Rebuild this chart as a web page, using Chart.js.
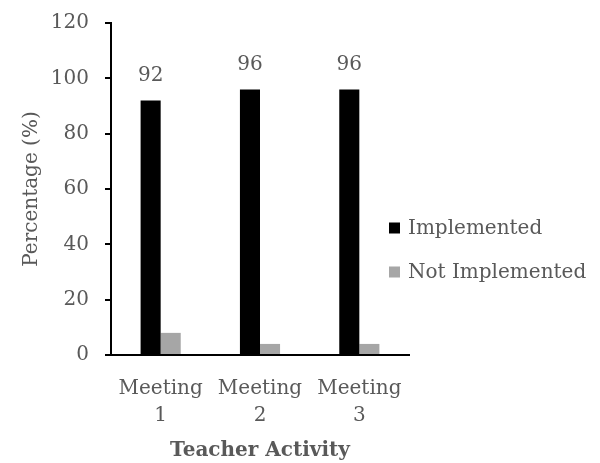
<!DOCTYPE html>
<html>
<head>
<meta charset="utf-8">
<script src="https://cdn.jsdelivr.net/npm/chart.js@4"></script>
<style>
  body { margin: 0; background: #fff; }
  canvas { display: block; }
</style>
</head>
<body>
<canvas id="chart" width="600" height="463"></canvas>
<script>
// chart values
const meetings = [["Meeting", "1"], ["Meeting", "2"], ["Meeting", "3"]];
const implemented = [92, 96, 96];
const notImplemented = [8, 4, 4];
const seriesNames = ["Implemented", "Not Implemented"];
const seriesColors = ["#000000", "#a6a6a6"];

const textColor = "#595959";
const serif = "'DejaVu Serif', 'Liberation Serif', serif";

// numbers above the black bars
const barLabels = {
  id: "barLabels",
  afterDatasetsDraw(chart) {
    const ctx = chart.ctx;
    const meta = chart.getDatasetMeta(0);
    ctx.save();
    ctx.font = "20px " + serif;
    ctx.fillStyle = textColor;
    ctx.textAlign = "center";
    ctx.textBaseline = "middle";
    meta.data.forEach((bar, i) => {
      ctx.fillText(String(implemented[i]), bar.x, bar.y - 25);
    });
    ctx.restore();
  }
};

// legend drawn to the right of the plot
const sideLegend = {
  id: "sideLegend",
  afterDraw(chart) {
    const ctx = chart.ctx;
    const left = 389;
    const rows = [228, 272];
    ctx.save();
    ctx.font = "20px " + serif;
    ctx.textBaseline = "middle";
    ctx.textAlign = "left";
    chart.data.datasets.forEach((ds, i) => {
      ctx.fillStyle = ds.backgroundColor;
      ctx.fillRect(left, rows[i] - 5.5, 11, 11);
      ctx.fillStyle = textColor;
      ctx.fillText(ds.label, left + 19, rows[i] + 1);
    });
    ctx.restore();
  }
};

const ctx = document.getElementById("chart").getContext("2d");
new Chart(ctx, {
  type: "bar",
  data: {
    labels: meetings,
    datasets: [
      {
        label: seriesNames[0],
        data: implemented,
        backgroundColor: seriesColors[0],
        barPercentage: 1,
        categoryPercentage: 0.404
      },
      {
        label: seriesNames[1],
        data: notImplemented,
        backgroundColor: seriesColors[1],
        barPercentage: 1,
        categoryPercentage: 0.404
      }
    ]
  },
  options: {
    responsive: false,
    animation: false,
    layout: { padding: { top: 23, right: 191, bottom: 0, left: 0 } },
    plugins: {
      legend: { display: false },
      tooltip: { enabled: false }
    },
    scales: {
      x: {
        grid: { display: false },
        border: { display: true, color: "#000", width: 2 },
        ticks: {
          color: textColor,
          font: { family: serif, size: 20, lineHeight: 1.35 },
          padding: 12,
          maxRotation: 0,
          autoSkip: false
        },
        title: {
          display: true,
          text: "Teacher Activity",
          color: textColor,
          font: { family: serif, size: 20, weight: "bold" },
          padding: { top: 3, bottom: 0 }
        },
        afterFit(scale) { scale.height = 108; }
      },
      y: {
        min: 0,
        max: 120,
        grid: {
          drawOnChartArea: false,
          drawTicks: true,
          tickLength: 6,
          color: "#000",
          lineWidth: 2
        },
        border: { display: true, color: "#000", width: 2 },
        ticks: {
          stepSize: 20,
          color: textColor,
          font: { family: serif, size: 20 },
          padding: 16
        },
        title: {
          display: true,
          text: "Percentage (%)",
          color: textColor,
          font: { family: serif, size: 20 },
          padding: { top: 20, bottom: 0 }
        },
        afterFit(scale) {
          scale.width = 111;
          scale.paddingTop = 0;
          scale.paddingBottom = 0;
        }
      }
    }
  },
  plugins: [barLabels, sideLegend]
});
</script>
</body>
</html>
